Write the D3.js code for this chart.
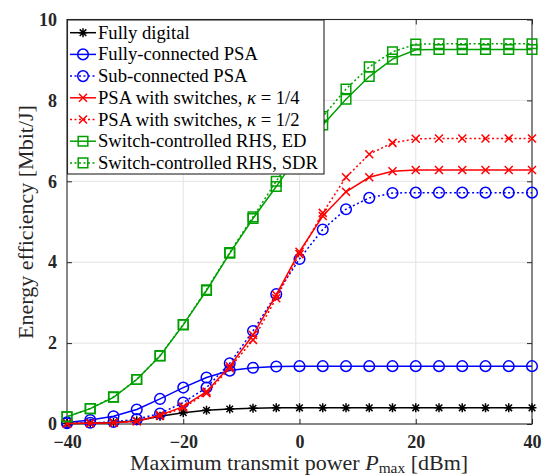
<!DOCTYPE html>
<html><head><meta charset="utf-8">
<script src="https://cdn.jsdelivr.net/npm/d3@7"></script>
<style>body{margin:0;background:#fff}svg{display:block}
.serif{font-family:"Liberation Serif","DejaVu Serif","Liberation Sans",serif;}
</style>
</head><body>
<svg id="c" width="548" height="475"></svg>
<script>
const powers = d3.range(-40, 41, 4);
const fullyDigital = [0.01,0.02,0.04,0.08,0.19,0.28,0.34,0.37,0.39,0.40,0.40,0.40,0.40,0.40,0.40,0.40,0.40,0.40,0.40,0.40,0.40];
const fullyConnected = [0.04,0.10,0.19,0.36,0.62,0.90,1.15,1.32,1.39,1.42,1.43,1.43,1.43,1.43,1.43,1.43,1.43,1.43,1.43,1.43,1.43];
const subConnected = [0.02,0.03,0.05,0.12,0.26,0.53,0.90,1.50,2.30,3.21,4.08,4.81,5.31,5.59,5.71,5.72,5.72,5.72,5.72,5.72,5.72];
const switchesQuarter = [0.01,0.02,0.03,0.07,0.22,0.43,0.80,1.43,2.20,3.19,4.26,5.14,5.74,6.10,6.25,6.28,6.28,6.28,6.28,6.28,6.28];
const switchesHalf = [0.01,0.02,0.03,0.07,0.20,0.40,0.76,1.38,2.08,3.11,4.20,5.22,6.10,6.67,6.95,7.05,7.06,7.06,7.06,7.06,7.06];
const rhsED = [0.18,0.38,0.66,1.10,1.68,2.45,3.30,4.22,5.08,5.87,6.70,7.39,8.03,8.59,9.02,9.25,9.26,9.26,9.26,9.26,9.26];
const rhsSDR = [0.18,0.38,0.67,1.10,1.69,2.46,3.32,4.24,5.12,6.00,6.85,7.60,8.28,8.83,9.20,9.39,9.40,9.40,9.40,9.40,9.40];
const xTicks = [-40,-20,0,20,40];
const yTicks = [0,2,4,6,8,10];

const series = [
  {name:"Fully digital", values: fullyDigital, color:"#000000", dash:null, marker:"star"},
  {name:"Fully-connected PSA", values: fullyConnected, color:"#0000ff", dash:null, marker:"circle"},
  {name:"Sub-connected PSA", values: subConnected, color:"#0000ff", dash:"2,2.5", marker:"circle"},
  {name:"PSA with switches, ", kappa:"1/4", values: switchesQuarter, color:"#ff0000", dash:null, marker:"x"},
  {name:"PSA with switches, ", kappa:"1/2", values: switchesHalf, color:"#ff0000", dash:"2,2.5", marker:"x"},
  {name:"Switch-controlled RHS, ED", values: rhsED, color:"#00a000", dash:null, marker:"square"},
  {name:"Switch-controlled RHS, SDR", values: rhsSDR, color:"#00a000", dash:"2,2.5", marker:"square"}
];

const svg = d3.select("#c");
const X0=67, X1=532, Y0=424, Y1=19.5;
const x = d3.scaleLinear().domain([-40,40]).range([X0,X1]);
const y = d3.scaleLinear().domain([0,10]).range([Y0,Y1]);
const axisColor = "#262626";

function fitWidth(sel, target, baseSize, maxSize){
  const w = sel.node().getComputedTextLength();
  if(w>0) sel.style("font-size", Math.min(maxSize, baseSize*target/w).toFixed(2)+"px");
}

// grid
const g = svg.append("g");
g.selectAll(".gx").data(xTicks.slice(1,-1)).enter().append("line")
  .attr("x1",d=>x(d)).attr("x2",d=>x(d)).attr("y1",Y0).attr("y2",Y1)
  .attr("stroke","#e3e3e3").attr("stroke-width",1);
g.selectAll(".gy").data(yTicks.slice(1,-1)).enter().append("line")
  .attr("y1",d=>y(d)).attr("y2",d=>y(d)).attr("x1",X0).attr("x2",X1)
  .attr("stroke","#e3e3e3").attr("stroke-width",1);

// axes
const xAxisB = d3.axisBottom(x).tickValues(xTicks).tickSizeInner(-5).tickSizeOuter(0).tickPadding(11);
const xAxisT = d3.axisTop(x).tickValues(xTicks).tickSizeInner(-5).tickSizeOuter(0).tickFormat("");
const yAxisL = d3.axisLeft(y).tickValues(yTicks).tickSizeInner(-5).tickSizeOuter(0).tickPadding(10);
const yAxisR = d3.axisRight(y).tickValues(yTicks).tickSizeInner(-5).tickSizeOuter(0).tickFormat("");
function styleAxis(sel){
  sel.attr("font-family",null).attr("font-size",null);
  sel.selectAll("path").attr("stroke","none");
  sel.selectAll("line").attr("stroke",axisColor);
  sel.selectAll("text").attr("fill",axisColor).attr("class","serif").style("font-weight","bold").style("font-size","18px");
}
svg.append("g").attr("transform",`translate(0,${Y0})`).call(xAxisB).call(styleAxis);
svg.append("g").attr("transform",`translate(0,${Y1})`).call(xAxisT).call(styleAxis);
svg.append("g").attr("transform",`translate(${X0},0)`).call(yAxisL).call(styleAxis);
svg.append("g").attr("transform",`translate(${X1},0)`).call(yAxisR).call(styleAxis);
svg.append("rect").attr("x",X0).attr("y",Y1).attr("width",X1-X0).attr("height",Y0-Y1)
  .attr("fill","none").attr("stroke",axisColor).attr("stroke-width",1.1);

// markers
function markerPath(type){
  if(type==="star"){const s=4.5,d=3.3;return `M${-s},0L${s},0M0,${-s}L0,${s}M${-d},${-d}L${d},${d}M${-d},${d}L${d},${-d}`;}
  if(type==="x"){const s=4;return `M${-s},${-s}L${s},${s}M${-s},${s}L${s},${-s}`;}
  if(type==="square"){const s=4.8;return `M${-s},${-s}H${s}V${s}H${-s}Z`;}
  return null;
}
function drawMarker(sel, type, color){
  if(type==="circle"){
    sel.append("circle").attr("r",5.3).attr("fill","none").attr("stroke",color).attr("stroke-width",1.5);
  } else {
    sel.append("path").attr("d",markerPath(type)).attr("fill","none").attr("stroke",color).attr("stroke-width",1.5);
  }
}

const line = d3.line().x(d=>x(d[0])).y(d=>y(d[1]));
const plot = svg.append("g");
series.forEach(s=>{
  const pts = powers.map((p,i)=>[p,s.values[i]]);
  plot.append("path").datum(pts).attr("d",line).attr("fill","none")
    .attr("stroke",s.color).attr("stroke-width",1.5).attr("stroke-dasharray",s.dash);
  plot.selectAll(null).data(pts).enter().append("g")
    .attr("transform",d=>`translate(${x(d[0])},${y(d[1])})`)
    .each(function(){drawMarker(d3.select(this), s.marker, s.color);});
});

// legend
const lg = svg.append("g");
const LX=67.5, LY=20, LW=256.5, LH=154;
lg.append("rect").attr("x",LX).attr("y",LY).attr("width",LW).attr("height",LH)
  .attr("fill","#fff").attr("stroke",axisColor).attr("stroke-width",1.1);
const rowH = 21.7;
const legTexts = [];
series.forEach((s,i)=>{
  const cy = LY + 12.7 + i*rowH;
  lg.append("line").attr("x1",70).attr("x2",96).attr("y1",cy).attr("y2",cy)
    .attr("stroke",s.color).attr("stroke-width",1.5).attr("stroke-dasharray",s.dash);
  const m = lg.append("g").attr("transform",`translate(83,${cy})`);
  drawMarker(m, s.marker, s.color);
  const t = lg.append("text").attr("class","serif").attr("x",98).attr("y",cy+6).attr("fill","#000")
    .style("font-size","16px");
  t.append("tspan").text(s.name);
  if(s.kappa){
    t.append("tspan").style("font-style","italic").text("κ");
    t.append("tspan").text(" = " + s.kappa);
  }
  legTexts.push(t);
});
const longest = legTexts[6].node().getComputedTextLength();
const legSize = Math.min(20.3, 16*220/longest);
legTexts.forEach(t=>t.style("font-size",legSize.toFixed(2)+"px"));

// axis titles
const xt = svg.append("text").attr("class","serif").attr("x",299).attr("y",470).attr("text-anchor","middle")
  .attr("fill",axisColor).style("font-size","16px");
xt.append("tspan").text("Maximum transmit power ");
xt.append("tspan").style("font-style","italic").text("P");
xt.append("tspan").attr("dy",3).style("font-size","0.7em").text("max");
xt.append("tspan").attr("dy",-3).text(" [dBm]");
fitWidth(xt, 362, 16, 22);

const yt = svg.append("text").attr("class","serif").attr("transform","translate(33,222) rotate(-90)").attr("text-anchor","middle")
  .attr("fill",axisColor).style("font-size","16px")
  .text("Energy efficiency [Mbit/J]");
fitWidth(yt, 262, 16, 22);
</script>
</body></html>
